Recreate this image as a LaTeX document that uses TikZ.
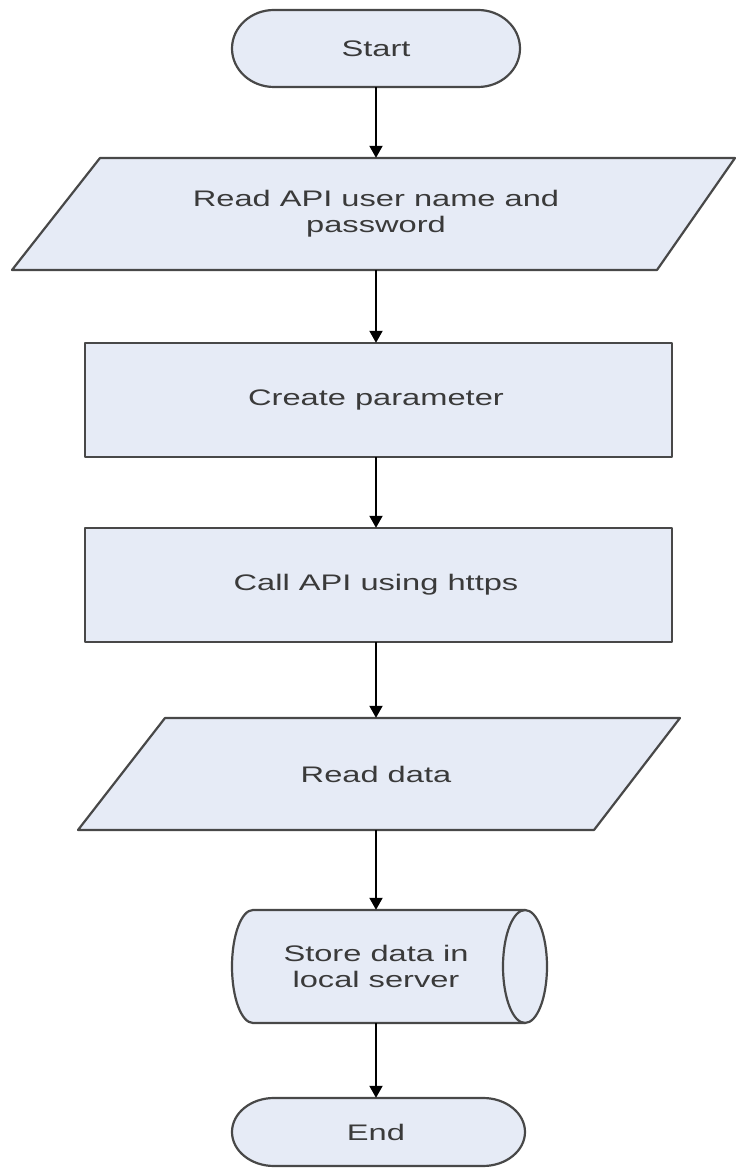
\documentclass[tikz,border=0pt]{standalone}
\usepackage{fontspec}
\newfontfamily\labfont[FakeStretch=1.45]{Liberation Sans}
\usetikzlibrary{arrows.meta}
\definecolor{shapefill}{RGB}{230,235,246}
\definecolor{shapeline}{RGB}{72,72,72}
\definecolor{labcolor}{RGB}{58,58,58}
\begin{document}
\begin{tikzpicture}[x=1pt,y=1pt,
  outline/.style={draw=shapeline, fill=shapefill, line width=2.2pt, line join=round},
  lab/.style={inner sep=0pt, align=center, text=labcolor,
    font=\labfont\fontsize{22.5}{26}\selectfont},
  arr/.style={draw=black, line width=2pt, -{Triangle[length=12pt,width=13pt]}}]
\fill[white] (0,0) rectangle (737,1171);
\useasboundingbox (0,0) rectangle (737,1171);

% Start terminal
\draw[outline] (274,1161) -- (478,1161)
  arc[start angle=90,end angle=-90,x radius=42,y radius=38.5]
  -- (274,1084) arc[start angle=270,end angle=90,x radius=42,y radius=38.5] -- cycle;
\node[lab, minimum width=288pt, minimum height=77pt] (start) at (376,1122.5) {Start};

% Input: read API user name and password
\draw[outline] (100,1013) -- (735,1013) -- (657,901) -- (12,901) -- cycle;
\node[lab, minimum width=560pt, minimum height=112pt] (read1) at (376,957) {Read API user name and\\password};

% Process: create parameter
\draw[outline] (85,828) rectangle (672,714);
\node[lab, minimum width=587pt, minimum height=114pt] (create) at (376,771) {Create parameter};

% Process: call API
\draw[outline] (85,643) rectangle (672,529);
\node[lab, minimum width=587pt, minimum height=114pt] (call) at (376,586) {Call API using https};

% Input: read data
\draw[outline] (165,453) -- (680,453) -- (594,341) -- (78,341) -- cycle;
\node[lab, minimum width=500pt, minimum height=112pt] (read2) at (376,397) {Read data};

% Storage cylinder
\draw[outline] (253,261) -- (525,261)
  arc[start angle=90,end angle=-90,x radius=22,y radius=56.5]
  -- (253,148) arc[start angle=270,end angle=90,x radius=21,y radius=56.5] -- cycle;
\draw[draw=shapeline, line width=2.2pt] (525,261) arc[start angle=90,end angle=270,x radius=22,y radius=56.5];
\node[lab, minimum width=250pt, minimum height=113pt] (store) at (376,204.5) {Store data in\\local server};

% End terminal
\draw[outline] (274,73) -- (483,73)
  arc[start angle=90,end angle=-90,x radius=42,y radius=34]
  -- (274,5) arc[start angle=270,end angle=90,x radius=42,y radius=34] -- cycle;
\node[lab, minimum width=293pt, minimum height=68pt] (end) at (376,39) {End};

% Connectors
\draw[arr] (start.south) -- (read1.north);
\draw[arr] (read1.south) -- (create.north);
\draw[arr] (create.south) -- (call.north);
\draw[arr] (call.south) -- (read2.north);
\draw[arr] (read2.south) -- (store.north);
\draw[arr] (store.south) -- (end.north);
\end{tikzpicture}
\end{document}
